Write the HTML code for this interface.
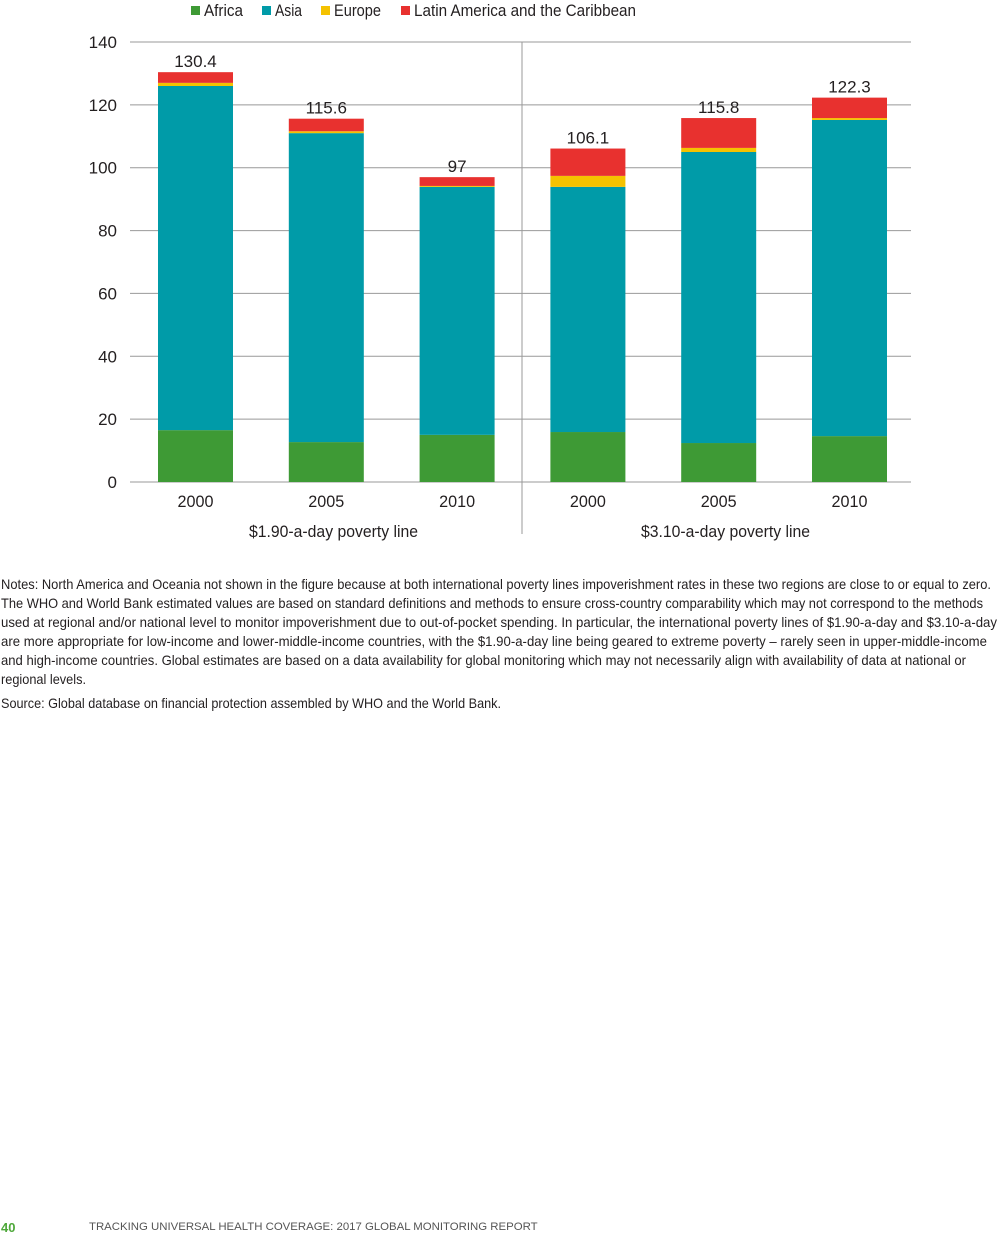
<!DOCTYPE html>
<html><head><meta charset="utf-8"><style>
body{margin:0;background:#fff;width:998px;height:1236px;position:relative;overflow:hidden;font-family:"Liberation Sans",sans-serif;color:#231f20}
.foot{position:absolute;top:1221px;font-size:11.5px;font-family:"Liberation Sans",sans-serif}
</style></head><body>
<svg id="chart" width="998" height="560" style="position:absolute;left:0;top:0" font-family="Liberation Sans, sans-serif" fill="#231f20"></svg>
<svg width="998" height="150" style="position:absolute;left:0;top:570px" font-family="Liberation Sans, sans-serif" font-size="14" fill="#231f20" lengthAdjust="spacingAndGlyphs">
<text x="1" y="19" textLength="990" lengthAdjust="spacingAndGlyphs">Notes: North America and Oceania not shown in the figure because at both international poverty lines impoverishment rates in these two regions are close to or equal to zero.</text>
<text x="1" y="38" textLength="982" lengthAdjust="spacingAndGlyphs">The WHO and World Bank estimated values are based on standard definitions and methods to ensure cross-country comparability which may not correspond to the methods</text>
<text x="1" y="57" textLength="996" lengthAdjust="spacingAndGlyphs">used at regional and/or national level to monitor impoverishment due to out-of-pocket spending. In particular, the international poverty lines of $1.90-a-day and $3.10-a-day</text>
<text x="1" y="76" textLength="986" lengthAdjust="spacingAndGlyphs">are more appropriate for low-income and lower-middle-income countries, with the $1.90-a-day line being geared to extreme poverty – rarely seen in upper-middle-income</text>
<text x="1" y="95" textLength="965" lengthAdjust="spacingAndGlyphs">and high-income countries. Global estimates are based on a data availability for global monitoring which may not necessarily align with availability of data at national or</text>
<text x="1" y="114" textLength="85" lengthAdjust="spacingAndGlyphs">regional levels.</text>
<text x="1" y="138" textLength="500" lengthAdjust="spacingAndGlyphs">Source: Global database on financial protection assembled by WHO and the World Bank.</text>
</svg>
<div class="foot" style="left:1px;color:#4ea83a;font-weight:bold;font-size:13px;top:1220px">40</div>
<div class="foot" style="left:89px;color:#555;font-size:11.4px">TRACKING UNIVERSAL HEALTH COVERAGE: 2017 GLOBAL MONITORING REPORT</div>
<script>
const categories=["2000","2005","2010","2000","2005","2010"];
const africa=[16.5,12.7,15.0,15.9,12.4,14.6];
const asia=[109.5,98.3,78.9,78.0,92.6,100.6];
const europe=[1.0,0.6,0.3,3.5,1.3,0.6];
const latam=[3.4,4.0,2.8,8.7,9.5,6.5];
const totals=["130.4","115.6","97","106.1","115.8","122.3"];
const yTicks=[0,20,40,60,80,100,120,140];
const groups=["$1.90-a-day poverty line","$3.10-a-day poverty line"];
const seriesNames=["Africa","Asia","Europe","Latin America and the Caribbean"];
const colors=["#3e9a35","#009ba8","#f5c200","#e8312f"];
const NS="http://www.w3.org/2000/svg",svg=document.getElementById("chart");
const y0=482,y1=42,plotL=130,plotR=911;
const Y=v=>y0-(v/140)*(y0-y1);
const X=i=>158+i*130.8;
const bw=75;
function mk(t,a,txt){const e=document.createElementNS(NS,t);for(const k in a)e.setAttribute(k,a[k]);if(txt!==undefined)e.textContent=txt;svg.appendChild(e);return e;}
yTicks.forEach(t=>{
 const l=mk("line",{x1:plotL,x2:plotR,y1:Y(t),y2:Y(t),stroke:"#999","stroke-width":1});
 
 
 const tx=mk("text",{x:117,y:Y(t)+6,"text-anchor":"end","font-size":17},t);
 
 
});
const sep=mk("line",{x1:522,x2:522,y1:42,y2:534,stroke:"#999","stroke-width":1});


const series=[africa,asia,europe,latam];
categories.forEach((c,i)=>{
 let acc=0;
 series.forEach((s,j)=>{
  const r=mk("rect",{x:X(i),y:Y(acc+s[i]),width:bw,height:Y(acc)-Y(acc+s[i]),fill:colors[j]});
  
  
  acc+=s[i];
 });
 const v=mk("text",{x:X(i)+bw/2,y:Y(acc)-5,"text-anchor":"middle","font-size":17,"transform-origin":"center"},totals[i]);
 
 
 const xl=mk("text",{x:X(i)+bw/2,y:507,"text-anchor":"middle","font-size":17,textLength:36,lengthAdjust:"spacingAndGlyphs"},c);
 
 
});
groups.forEach((g,k)=>{
 const t=mk("text",{x:k?641:249,y:537,"font-size":17,textLength:169,lengthAdjust:"spacingAndGlyphs"},g);
 
 
});
const lx=[191,262,321,401];
const lw=[39,27,47,222];
seriesNames.forEach((n,j)=>{
 const r=mk("rect",{x:lx[j],y:6,width:9,height:9,fill:colors[j]});
 
 
 const t=mk("text",{x:lx[j]+13,y:16,"font-size":17,textLength:lw[j],lengthAdjust:"spacingAndGlyphs"},n);
 
 
});
</script>
</body></html>
